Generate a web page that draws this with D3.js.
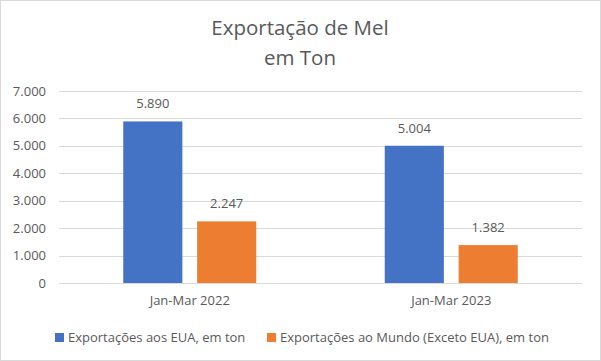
<!DOCTYPE html>
<html>
<head>
<meta charset="utf-8">
<script src="https://cdn.jsdelivr.net/npm/d3@7"></script>
<style>
  body { margin: 0; background: #fff; }
  svg text { font-family: "Open Sans", "Liberation Sans", sans-serif; fill: #595959; }
</style>
</head>
<body>
<svg width="601" height="361"></svg>
<script>
// data
const categories = ['Jan-Mar 2022', 'Jan-Mar 2023'];
const seriesNames = ['Exportações aos EUA, em ton', 'Exportações ao Mundo (Exceto EUA), em ton'];
const eua = [5890, 5004];
const mundo = [2247, 1382];
const yTicks = [0, 1000, 2000, 3000, 4000, 5000, 6000, 7000];
const colors = ['#4472C4', '#ED7D31'];

const svg = d3.select('svg'),
    width = +svg.attr('width'),
    height = +svg.attr('height');

// border
svg.append('rect')
    .attr('x', 0.5).attr('y', 0.5)
    .attr('width', width - 1).attr('height', height - 1)
    .style('fill', '#fff').style('stroke', '#d9d9d9');

// title
const title = svg.append('text')
    .attr('text-anchor', 'middle')
    .style('font-size', '20.5px');
title.append('tspan').attr('x', 300).attr('y', 35).text('Exportação de Mel');
title.append('tspan').attr('x', 300).attr('y', 65).text('em Ton');

const margin = {left: 59, right: 19, top: 91, bottom: 78};

const x0 = d3.scaleBand()
    .domain(categories)
    .range([margin.left, width - margin.right]);
const x1 = d3.scaleBand()
    .domain(seriesNames)
    .range([0, 133])
    .paddingInner(0.2);
const y = d3.scaleLinear()
    .domain([0, 7000])
    .range([height - margin.bottom, margin.top]);

const fmt = d3.formatLocale({decimal: ',', thousands: '.', grouping: [3], currency: ['', '']}).format(',d');

// gridlines + y labels
const grid = svg.append('g').attr('class', 'grid');
grid.selectAll('line').data(yTicks).enter().append('line')
    .attr('x1', margin.left).attr('x2', width - margin.right)
    .attr('y1', d => Math.round(y(d)) + 0.5).attr('y2', d => Math.round(y(d)) + 0.5)
    .style('stroke', '#d9d9d9').style('stroke-width', 1);
grid.selectAll('text').data(yTicks).enter().append('text')
    .attr('x', 46).attr('y', d => y(d))
    .attr('dy', '0.35em')
    .attr('text-anchor', 'end')
    .style('font-size', '13px')
    .text(d => fmt(d));

// bars
const rows = categories.map((c, i) => ({cat: c, values: [eua[i], mundo[i]]}));
const groups = svg.append('g').selectAll('g').data(rows).enter().append('g')
    .attr('transform', d => `translate(${x0(d.cat) + x0.bandwidth() / 2 - 66.5},0)`);
groups.selectAll('rect').data(d => d.values.map((v, j) => ({name: seriesNames[j], v: v, j: j})))
    .enter().append('rect')
    .attr('x', d => x1(d.name))
    .attr('width', x1.bandwidth())
    .attr('y', d => y(d.v))
    .attr('height', d => y(0) - y(d.v))
    .style('fill', d => colors[d.j]);
groups.selectAll('text').data(d => d.values.map((v, j) => ({name: seriesNames[j], v: v})))
    .enter().append('text')
    .attr('x', d => x1(d.name) + x1.bandwidth() / 2)
    .attr('y', d => y(d.v) - 13)
    .attr('text-anchor', 'middle')
    .style('font-size', '13px')
    .text(d => fmt(d.v));

// x labels
svg.append('g').selectAll('text').data(categories).enter().append('text')
    .attr('x', d => x0(d) + x0.bandwidth() / 2)
    .attr('y', 305)
    .attr('text-anchor', 'middle')
    .style('font-size', '13px')
    .text(d => d);

// legend
const legendX = [55, 267];
const legend = svg.append('g').selectAll('g').data(seriesNames).enter().append('g')
    .attr('transform', (d, i) => `translate(${legendX[i]},333)`);
legend.append('rect').attr('width', 9).attr('height', 9).style('fill', (d, i) => colors[i]);
legend.append('text').attr('x', 13).attr('y', 4.5).attr('dy', '0.35em')
    .style('font-size', '13px').text(d => d);
</script>
</body>
</html>
